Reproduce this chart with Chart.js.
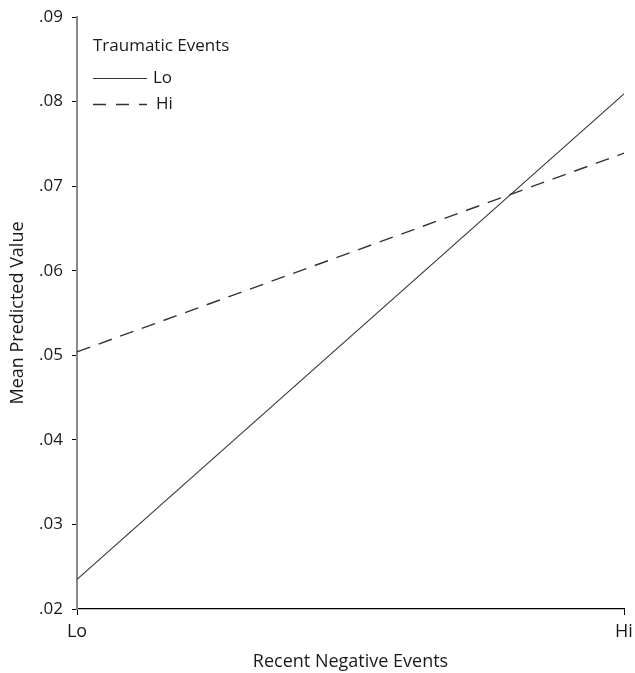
<!DOCTYPE html>
<html>
<head>
<meta charset="utf-8">
<script src="https://cdn.jsdelivr.net/npm/chart.js@4"></script>
<style>
html,body{margin:0;padding:0;background:#fff;}
#wrap{width:635px;height:673px;}
</style>
</head>
<body>
<div id="wrap"><canvas id="c" width="635" height="673"></canvas></div>
<script>
const categories = ['Lo', 'Hi'];
const seriesNames = ['Lo', 'Hi'];
const lowTrauma = [0.0235, 0.0809];
const highTrauma = [0.0504, 0.0739];
const yTickLabels = ['.02', '.03', '.04', '.05', '.06', '.07', '.08', '.09'];
const legendTitle = 'Traumatic Events';
const xTitle = 'Recent Negative Events';
const yTitle = 'Mean Predicted Value';

const FONT = 'Open Sans';
const FS = 18;
const TXT = '#1a1a1a';

const legendPlugin = {
  id: 'customLegend',
  afterDraw(chart) {
    const ctx = chart.ctx;
    ctx.save();
    ctx.fillStyle = TXT;
    ctx.font = '17px "' + FONT + '"';
    ctx.textBaseline = 'middle';
    ctx.textAlign = 'left';
    ctx.fillText(legendTitle, 93, 46);
    chart.data.datasets.forEach((ds, i) => {
      const y = 78 + i * 26;
      ctx.beginPath();
      ctx.strokeStyle = ds.borderColor;
      ctx.lineWidth = ds.borderWidth;
      ctx.setLineDash(ds.legendDash || ds.borderDash || []);
      ctx.moveTo(93, y + 0.5);
      ctx.lineTo(147, y + 0.5);
      ctx.stroke();
      ctx.setLineDash([]);
      ctx.fillText(ds.label, 153 + i * 3, y);
    });
    ctx.restore();
  }
};

new Chart(document.getElementById('c'), {
  type: 'line',
  data: {
    labels: categories,
    datasets: [
      { label: seriesNames[0], data: lowTrauma, borderColor: '#333', borderWidth: 1.1, pointRadius: 0, fill: false, tension: 0 },
      { label: seriesNames[1], data: highTrauma, borderColor: '#333', borderWidth: 1.4, borderDash: [14, 9], legendDash: [13, 10], pointRadius: 0, fill: false, tension: 0 }
    ]
  },
  options: {
    responsive: false,
    animation: false,
    layout: { padding: { top: 17, right: 11, left: 0, bottom: 0 } },
    plugins: { legend: { display: false }, tooltip: { enabled: false } },
    scales: {
      x: {
        type: 'category',
        offset: false,
        grid: { drawOnChartArea: false, drawTicks: true, tickLength: 6, color: '#000', lineWidth: 1 },
        border: { display: true, color: '#000', width: 1.3 },
        ticks: { color: TXT, font: { family: FONT, size: FS }, padding: 6, maxRotation: 0 },
        title: { display: true, text: xTitle, color: TXT, font: { family: FONT, size: FS }, padding: { top: 0, bottom: 0 } },
        afterFit(s) { s.height = 64; s.paddingRight = 0; s.paddingLeft = 0; }
      },
      y: {
        min: 0.02, max: 0.09,
        grid: { drawOnChartArea: false, drawTicks: true, tickLength: 5, color: '#000', lineWidth: 1 },
        border: { display: true, color: '#888', width: 2 },
        ticks: {
          stepSize: 0.01,
          color: TXT,
          font: { family: FONT, size: 17 },
          padding: 9,
          callback: (v, i) => yTickLabels[i]
        },
        title: { display: true, text: yTitle, color: TXT, font: { family: FONT, size: FS }, padding: { top: 7, bottom: 0 } },
        afterFit(s) { s.width = 77; s.paddingTop = 0; s.paddingBottom = 0; }
      }
    }
  },
  plugins: [legendPlugin]
});
</script>
</body>
</html>
